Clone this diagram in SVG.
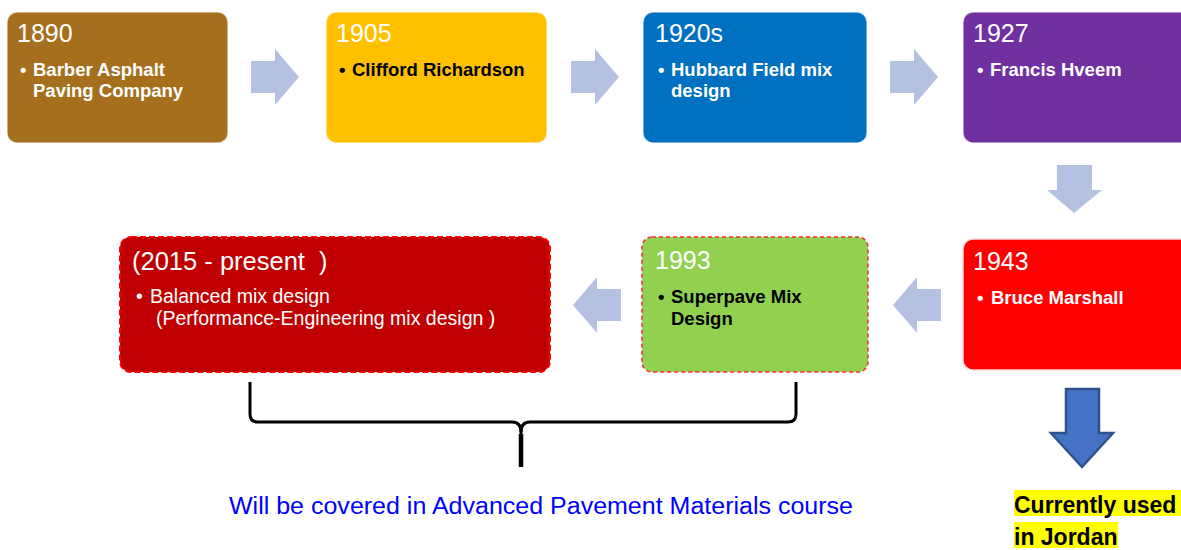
<svg xmlns="http://www.w3.org/2000/svg" width="1181" height="550" viewBox="0 0 1181 550">
  <style>
    text { font-family: "Liberation Sans", Arial, sans-serif; }
    .year { font-size: 25px; fill: #ffffff; }
    .item { font-size: 18.5px; font-weight: bold; }
    .w { fill: #ffffff; }
    .k { fill: #000000; }
    .box { stroke: #ffffff; stroke-opacity: 0.6; stroke-width: 1.5; }
    .flow { fill: #b4c1e0; }
  </style>
  <defs>
    <!-- block arrows, 48 x 56 bounding box -->
    <path id="arrowRight" d="M0,12 L24,12 L24,0 L48,28 L24,56 L24,44 L0,44 Z"/>
    <path id="arrowLeft" d="M48,12 L24,12 L24,0 L0,28 L24,56 L24,44 L48,44 Z"/>
  </defs>

  <rect width="1181" height="550" fill="#ffffff"/>

  <!-- top row -->
  <g id="node-1890">
    <rect class="box" x="7" y="12" width="221" height="131" rx="10" fill="#a66f1d"/>
    <text class="year" x="17" y="42">1890</text>
    <text class="item w" x="20" y="76">•</text>
    <text class="item w" x="33" y="76">Barber Asphalt</text>
    <text class="item w" x="33" y="97">Paving Company</text>
  </g>
  <g id="node-1905">
    <rect class="box" x="326" y="12" width="221" height="131" rx="10" fill="#ffc000"/>
    <text class="year" x="336" y="42">1905</text>
    <text class="item k" x="339" y="76">•</text>
    <text class="item k" x="352" y="76">Clifford Richardson</text>
  </g>
  <g id="node-1920s">
    <rect class="box" x="643" y="12" width="224" height="131" rx="10" fill="#0070c0"/>
    <text class="year" x="655" y="42">1920s</text>
    <text class="item w" x="658" y="76">•</text>
    <text class="item w" x="671" y="76">Hubbard Field mix</text>
    <text class="item w" x="671" y="97">design</text>
  </g>
  <g id="node-1927">
    <rect class="box" x="963" y="12" width="230" height="131" rx="10" fill="#7030a0"/>
    <text class="year" x="973" y="42">1927</text>
    <text class="item w" x="977" y="76">•</text>
    <text class="item w" x="990" y="76">Francis Hveem</text>
  </g>

  <!-- bottom row -->
  <g id="node-1943">
    <rect x="963" y="239" width="230" height="131" rx="10" fill="#ff0000" stroke="#ffd6d6" stroke-width="1.5"/>
    <text class="year" x="973" y="270">1943</text>
    <text class="item w" x="977" y="304">•</text>
    <text class="item w" x="991" y="304">Bruce Marshall</text>
  </g>
  <g id="node-1993">
    <rect x="642" y="237" width="226" height="135" rx="10" fill="#92d050" stroke="#ff2a2a" stroke-width="1.5" stroke-dasharray="4 3"/>
    <text class="year" x="655" y="269">1993</text>
    <text class="item k" x="658" y="303">•</text>
    <text class="item k" x="671" y="303">Superpave Mix</text>
    <text class="item k" x="671" y="325">Design</text>
  </g>
  <g id="node-2015">
    <rect x="120" y="237" width="430" height="135" rx="11" fill="#c00000" stroke="#ff0000" stroke-width="2" stroke-dasharray="6 3"/>
    <text x="132" y="270" font-size="25.5" fill="#ffffff" xml:space="preserve">(2015 - present  )</text>
    <text x="136" y="303" font-size="19.5" fill="#ffffff">•</text>
    <text x="150" y="303" font-size="19.5" fill="#ffffff">Balanced mix design</text>
    <text x="156" y="325" font-size="19.5" fill="#ffffff">(Performance-Engineering mix design )</text>
  </g>

  <!-- connectors -->
  <g id="connectors">
    <use href="#arrowRight" class="flow" x="251" y="49"/>
    <use href="#arrowRight" class="flow" x="571" y="49"/>
    <use href="#arrowRight" class="flow" x="890" y="49"/>
    <path class="flow" d="M1057,165 L1092,165 L1092,190 L1102,190 L1074,213 L1047,190 L1057,190 Z"/>
    <use href="#arrowLeft" class="flow" x="893" y="277"/>
    <use href="#arrowLeft" class="flow" x="573" y="277"/>
    <path d="M1066,389 L1099,389 L1099,433 L1113,433 L1082,467 L1051,433 L1066,433 Z" fill="#4472c4" stroke="#2f528f" stroke-width="2.5" stroke-linejoin="miter"/>
  </g>

  <!-- brace spanning the last two stages -->
  <g id="brace" fill="none" stroke="#000000" stroke-width="3">
    <path d="M250,382 L250,414 Q250,422 258,422 L512,422 Q521,422 521,432 L521,467"/>
    <path d="M796,382 L796,414 Q796,422 788,422 L530,422 Q521,422 521,432"/>
    <path d="M521,434 L521,467" stroke-width="4.5"/>
  </g>

  <g id="note-course">
    <text x="229" y="514" font-size="23" fill="#0000ff" textLength="624" lengthAdjust="spacingAndGlyphs">Will be covered in Advanced Pavement Materials course</text>
  </g>

  <g id="note-jordan">
    <rect x="1014" y="490" width="167" height="26" fill="#ffff00"/>
    <rect x="1014" y="522" width="104" height="26" fill="#ffff00"/>
    <text x="1014" y="513" font-size="23" font-weight="bold" fill="#000000">Currently used</text>
    <text x="1014" y="545" font-size="23" font-weight="bold" fill="#000000">in Jordan</text>
  </g>
</svg>
